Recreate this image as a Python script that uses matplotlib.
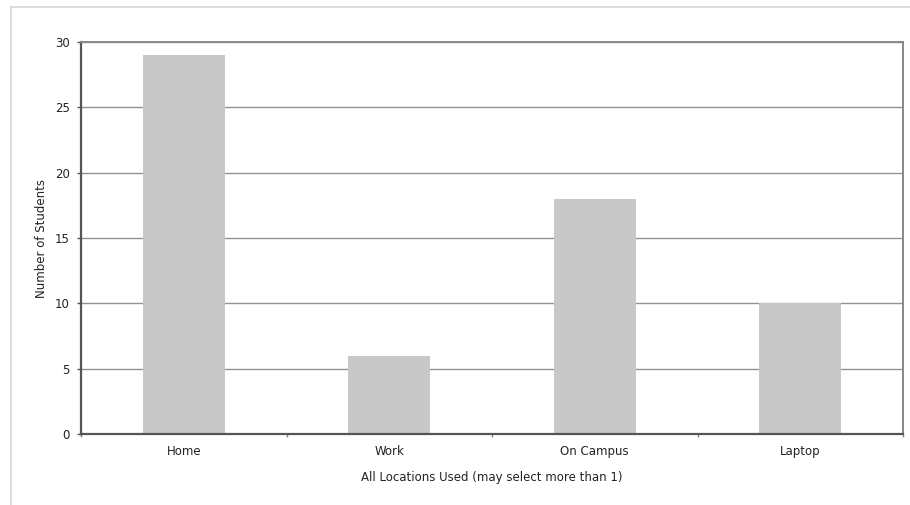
import matplotlib
matplotlib.use("Agg")
import matplotlib.pyplot as plt
from matplotlib.lines import Line2D
import numpy as np

categories = ["Home", "Work", "On Campus", "Laptop"]
counts = [29, 6, 18, 10]
y_ticks = [0, 5, 10, 15, 20, 25, 30]

W, H = 910, 505
fig = plt.figure(figsize=(W / 100, H / 100), dpi=100)
fig.patch.set_facecolor("white")

# light frame around the chart area (top and left edges)
fig.add_artist(Line2D([11 / W, 1.0], [1 - 7 / H, 1 - 7 / H], color="#d6d6d6", lw=1.2))
fig.add_artist(Line2D([11 / W, 11 / W], [0.0, 1 - 7 / H], color="#d6d6d6", lw=1.2))

left, right, top, bottom = 81, 903, 42, 434
ax = fig.add_axes([left / W, 1 - bottom / H, (right - left) / W, (bottom - top) / H])

x = np.arange(len(categories))
ax.bar(x, counts, width=0.4, color="#c8c8c8", zorder=2)

ax.set_xlim(-0.5, len(categories) - 0.5)
ax.set_ylim(0, 30)
ax.set_yticks(y_ticks)
ax.set_yticklabels([str(v) for v in y_ticks])
ax.yaxis.grid(True, color="#929292", lw=1.0, zorder=1)
ax.set_axisbelow(True)

ax.set_xticks(x)
ax.set_xticklabels(categories)
ax.set_xticks(np.arange(-0.5, len(categories), 1.0), minor=True)
ax.tick_params(axis="x", which="major", length=0, pad=8, labelsize=8.5, labelcolor="#222222")
ax.tick_params(axis="x", which="minor", length=2.5, width=1, color="#888888", direction="out")
ax.tick_params(axis="y", length=3, width=1, color="#555555", pad=5, labelsize=8.5, labelcolor="#222222")

for side in ["left", "bottom"]:
    ax.spines[side].set_color("#555555")
    ax.spines[side].set_linewidth(1.6)
for side in ["top", "right"]:
    ax.spines[side].set_color("#888888")
    ax.spines[side].set_linewidth(1.4)

ax.set_xlabel("All Locations Used (may select more than 1)", fontsize=8.5, color="#222222", labelpad=9)
ax.set_ylabel("Number of Students", fontsize=8.5, color="#222222", labelpad=5)

fig.savefig("out.png", dpi=100, facecolor="white")
